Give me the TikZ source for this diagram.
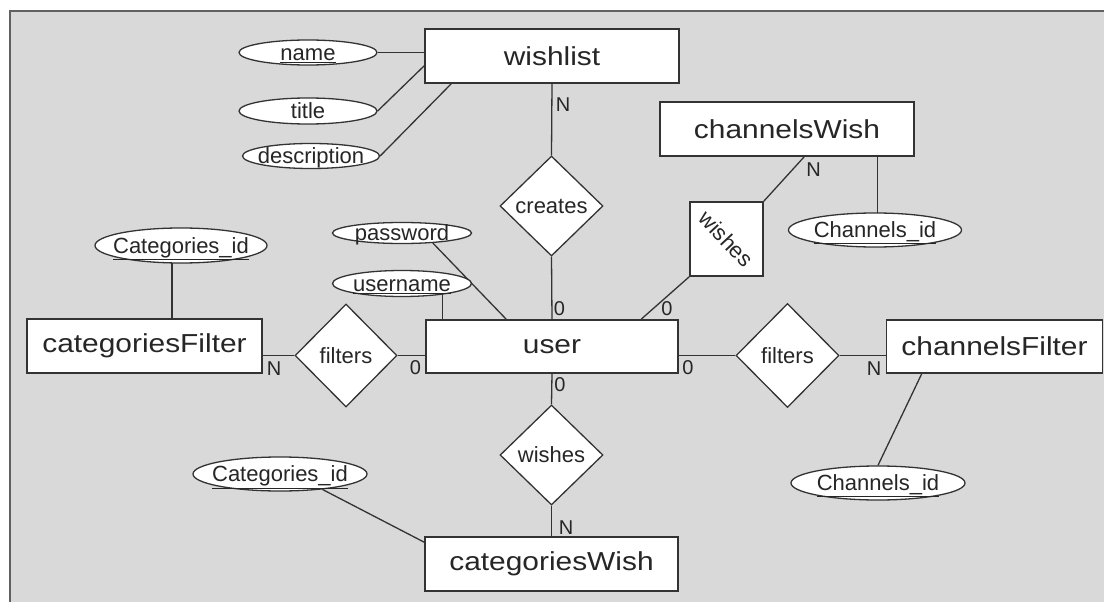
\documentclass[tikz,border=0pt]{standalone}
\usepackage{fontspec}
\usepackage{graphicx}
\setmainfont{Liberation Sans}
\newfontfamily\entfont{Liberation Sans}[FakeStretch=1.15]
\usetikzlibrary{shapes.geometric,calc}
\pgfdeclarelayer{bgl}
\pgfdeclarelayer{lnl}
\pgfsetlayers{bgl,lnl,main}
\definecolor{bggray}{HTML}{D9D9D9}
\definecolor{framegray}{HTML}{606060}
\definecolor{ink}{HTML}{333333}
\definecolor{txt}{HTML}{262626}
\newcommand{\ztxt}[1]{\raisebox{-0.36em}[0pt][0pt]{\makebox[0pt]{#1}}}
\begin{document}
\begin{tikzpicture}[x=1pt,y=-1pt,
  entity/.style={draw=ink,fill=white,line width=1.6pt,inner sep=0pt,font=\entfont\fontsize{26}{30}\selectfont,text=txt},
  attr/.style={ellipse,draw=ink,fill=white,line width=1.3pt,inner sep=0pt,font=\fontsize{22}{26}\selectfont,text=txt},
  rel/.style={diamond,draw=ink,fill=white,line width=1.3pt,inner sep=0pt,font=\fontsize{22}{26}\selectfont,text=txt},
  relsq/.style={rectangle,draw=ink,fill=white,line width=1.6pt,inner sep=0pt,font=\fontsize{22}{26}\selectfont,text=txt},
  conn/.style={draw=ink,line width=1.3pt},
  card/.style={inner sep=0pt,font=\fontsize{20}{24}\selectfont,text=txt}]
\useasboundingbox (0,0) rectangle (1104,602);
\begin{pgfonlayer}{bgl}
\fill[bggray] (10,11) rectangle (1104,602);
\draw[framegray,line width=2.5pt] (10,602) -- (10,11) -- (1104,11);
\end{pgfonlayer}

% entities
\node[entity,minimum width=254pt,minimum height=54pt] (wishlist) at (552,56) {wishlist};
\node[entity,minimum width=254pt,minimum height=54pt] (chwish) at (787,129) {channelsWish};
\node[entity,minimum width=252pt,minimum height=53pt] (user) at (552,346.5) {user};
\node[entity,minimum width=235pt,minimum height=54pt] (catfilter) at (144.5,346) {categoriesFilter};
\node[entity,minimum width=216pt,minimum height=53pt] (chfilter) at (994.5,346.5) {channelsFilter};
\node[entity,minimum width=253pt,minimum height=54pt] (catwish) at (551.5,564) {categoriesWish};

% relationships
\node[rel,minimum width=103pt,minimum height=100pt] (creates) at (551.5,206) {\ztxt{creates}};
\node[rel,minimum width=102pt,minimum height=103pt] (filtl) at (346,355.5) {\ztxt{filters}};
\node[rel,minimum width=103pt,minimum height=104pt] (filtr) at (787.5,355.5) {\ztxt{filters}};
\node[rel,minimum width=103pt,minimum height=100pt] (wishb) at (551.5,455) {\ztxt{wishes}};
\node[relsq,minimum width=73pt,minimum height=74pt] (wishsq) at (726.5,239) {\rotatebox[origin=c]{-47}{wishes}};

% attributes
\node[attr,minimum width=138pt,minimum height=25pt] (name) at (308,52.5) {\ztxt{\underline{name}}};
\node[attr,minimum width=138pt,minimum height=26pt] (title) at (308,111) {\ztxt{title}};
\node[attr,minimum width=137pt,minimum height=25pt] (descr) at (311,156) {\ztxt{description}};
\node[attr,minimum width=139pt,minimum height=21pt] (passw) at (402,233) {\ztxt{password}};
\node[attr,minimum width=139pt,minimum height=26pt] (usern) at (402,283.5) {\ztxt{\underline{username}}};
\node[attr,minimum width=172pt,minimum height=35pt] (catidt) at (181,245.5) {\ztxt{\underline{Categories\_id}}};
\node[attr,minimum width=174pt,minimum height=34pt] (catidb) at (280,474) {\ztxt{\underline{Categories\_id}}};
\node[attr,minimum width=173pt,minimum height=34pt] (chidt) at (875,230) {\ztxt{\underline{Channels\_id}}};
\node[attr,minimum width=174pt,minimum height=34pt] (chidb) at (878,483) {\ztxt{\underline{Channels\_id}}};

% connectors
\begin{pgfonlayer}{lnl}
\draw[conn] (name.east) -- (name.east -| wishlist.west);
\draw[conn] (title.east) -- ([yshift=18pt]wishlist.south west);
\draw[conn] (descr.east) -- ([xshift=27pt]wishlist.south west);
\draw[conn] (wishlist.south) -- (creates.north);
\draw[conn] (creates.south) -- (user.north);
\draw[conn] (passw.-18) -- ([xshift=81pt]user.north west);
\draw[conn] ([xshift=17pt]user.north west) -- ([xshift=17pt]user.north west |- usern.center);
\draw[conn] ([xshift=216pt]user.north west) -- (wishsq.south west);
\draw[conn] (wishsq.north east) -- ([xshift=145pt]chwish.south west);
\draw[conn] ([xshift=218pt]chwish.south west) -- ([xshift=218pt]chwish.south west |- chidt.center);
\draw[conn] ([xshift=-9pt]catidt.center) -- ([xshift=-9pt]catidt.center |- catfilter.north);
\draw[conn] (filtl.west) -- (filtl.west -| catfilter.east);
\draw[conn] (filtl.east) -- (filtl.east -| user.west);
\draw[conn] (filtr.west) -- (filtr.west -| user.east);
\draw[conn] (filtr.east) -- (filtr.east -| chfilter.west);
\draw[conn] ([xshift=36pt]chfilter.south west) -- (chidb.north);
\draw[conn] (user.south) -- (wishb.north);
\draw[conn] (wishb.south) -- (catwish.north);
\draw[conn] (catidb.-20) -- ([yshift=-6pt]catwish.north west);
\end{pgfonlayer}

% cardinalities
\node[card] (c1) at (563,105) {N};
\node[card] (c2) at (559.5,309) {0};
\node[card] (c3) at (560,385) {0};
\node[card] (c4) at (415.5,367.5) {0};
\node[card] (c5) at (688,368) {0};
\node[card] (c6) at (667,309) {0};
\node[card] (c7) at (874,368.5) {N};
\node[card] (c8) at (274,368.5) {N};
\node[card] (c9) at (566,527.5) {N};
\node[card] (c10) at (813.5,169.5) {N};
\end{tikzpicture}
\end{document}
